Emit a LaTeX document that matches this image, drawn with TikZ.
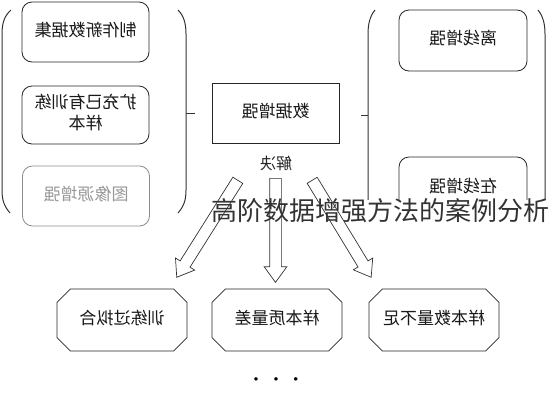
\documentclass[tikz,border=0pt]{standalone}
\usepackage{fontspec}
\newfontfamily\cjk{Noto Sans CJK SC}
\usepackage{tikz}
\usetikzlibrary{shapes.arrows,shapes.misc}

\newcommand\flipped[1]{\reflectbox{\begin{tabular}{@{}c@{}}#1\end{tabular}}}

\begin{document}
\begin{tikzpicture}[x=1pt, y=-1pt,
  rbox/.style={draw=black!85, line width=0.8pt, fill=white, rounded corners=10pt, minimum width=127pt, minimum height=60pt, inner sep=0pt, align=center, text=black!90, font=\cjk\fontsize{17}{21}\selectfont},
  fadebox/.style={rbox, draw=black!45, text=black!40},
  sbox/.style={rbox, rounded corners=0pt},
  cbox/.style={rbox, rounded corners=0pt, chamfered rectangle, chamfered rectangle xsep=15pt, minimum width=130pt, minimum height=62pt},
  brk/.style={draw=black!80, line width=1pt},
  blockarr/.style={single arrow, draw=black!80, fill=white, line width=0.7pt, inner xsep=0pt, inner ysep=5.5pt, single arrow head extend=5.5pt, single arrow tip angle=72, anchor=tail}
]
  \useasboundingbox (0,0) rectangle (548,400);

  % left group
  \node[rbox] (newset) at (85.5,32) {\flipped{制作新数据集}};
  \node[rbox, minimum height=58pt] (expand) at (85.5,115) {\flipped{扩充已有训练\\样本}};
  \node[fadebox] (imgsrc) at (86,196) {\flipped{图像源增强}};
  \draw[brk] (11,10) .. controls (4,16) and (2,24) .. (2,34) -- (2,190) .. controls (2,200) and (4,206) .. (10,213);
  \draw[brk] (178,10) .. controls (184,16) and (186,24) .. (186,34) -- (186,190) .. controls (186,200) and (184,206) .. (178,213);
  \coordinate (ltick) at (186,113);
  \draw[brk] (ltick) -- ++(9,0);

  % right group
  \begin{scope}
    \clip (355,0) rectangle (548,199);
    \node[rbox, minimum width=128pt, minimum height=61pt] (offline) at (463,40.5) {\flipped{离线增强}};
    \node[rbox, minimum width=128pt, minimum height=56pt, text depth=0pt] (online) at (463,185) {\flipped{在线增强}};
    \draw[brk] (375,10) .. controls (370,16) and (368,24) .. (368,34) -- (368,215);
    \draw[brk] (538,10) .. controls (543,16) and (545,24) .. (545,34) -- (545,215);
  \end{scope}
  \coordinate (rtick) at (368,115);
  \draw[brk] (rtick) -- ++(-7,0);

  % centre
  \node[sbox] (aug) at (275.5,113) {\flipped{数据增强}};
  \node[text=black!85, font=\cjk\fontsize{16}{18}\selectfont] (solve) at (276,165) {\flipped{解决}};

  \node[blockarr, rotate=-122.2, minimum height=114.6pt] (arrl) at (238,180) {};
  \node[blockarr, rotate=-90, minimum height=104pt] (arrm) at (275.5,178) {};
  \node[blockarr, rotate=-58.7, minimum height=113.5pt] (arrr) at (312,180) {};

  % problems
  \node[cbox] (overfit) at (122,320) {\flipped{训练过拟合}};
  \node[cbox] (quality) at (277,320) {\flipped{样本质量差}};
  \node[cbox] (amount) at (434,320) {\flipped{样本数量不足}};
  \node[font=\fontsize{13}{13}\selectfont] (more) at (276,380) {\textbullet\hspace{10pt}\textbullet\hspace{10pt}\textbullet};

  % caption
  \node[anchor=west, inner sep=0pt, text=black!80, font=\cjk\fontsize{26}{30}\selectfont] (caption) at (211,211) {高阶数据增强方法的案例分析};
\end{tikzpicture}
\end{document}
